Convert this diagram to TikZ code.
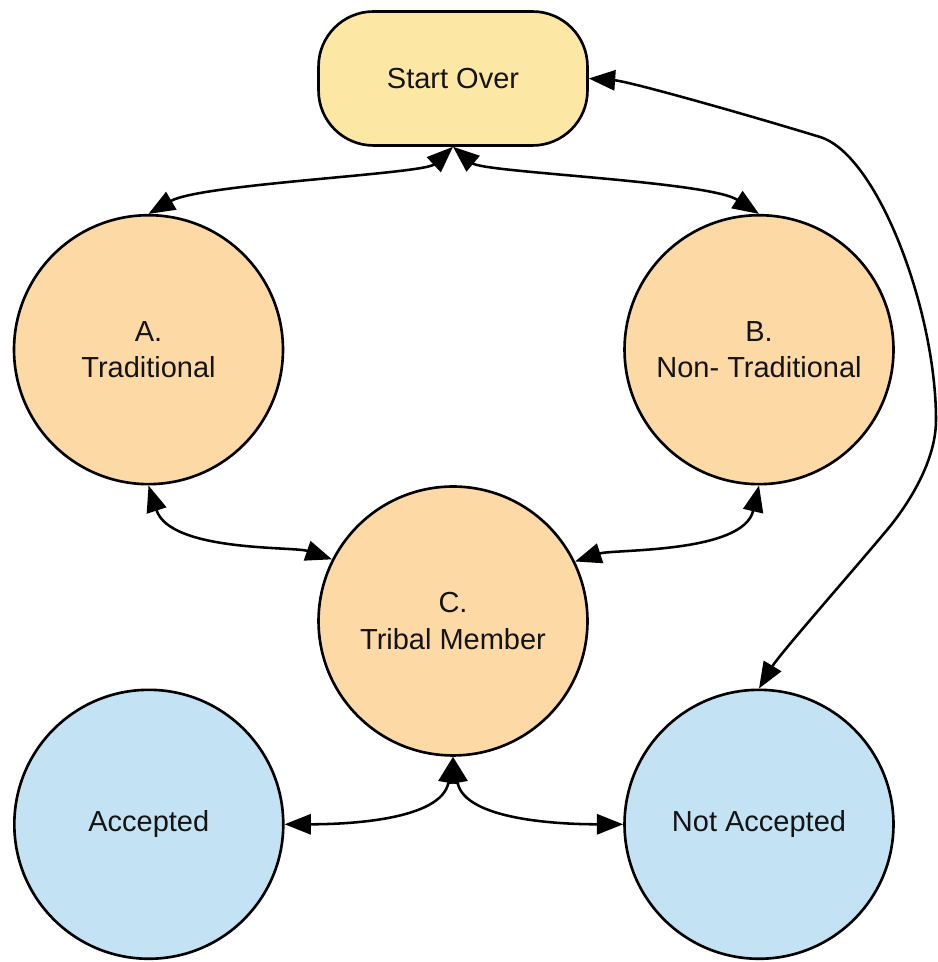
\documentclass[tikz,border=0pt]{standalone}
\usepackage{fontspec}
\setmainfont{Liberation Sans}
\usetikzlibrary{arrows.meta}
\definecolor{startfill}{HTML}{FCE8A4}
\definecolor{pathfill}{HTML}{FDD9A6}
\definecolor{resultfill}{HTML}{C3E3F5}
\definecolor{inkgray}{HTML}{141414}
\begin{document}
\begin{tikzpicture}[x=0.02cm, y=0.02cm,
  label text/.style={font=\fontsize{16.5}{21}\selectfont, text=inkgray, align=center, inner sep=0pt},
  terminal/.style={label text, rectangle, draw=black, line width=1.5pt, rounded corners=1.1cm,
    minimum width=5.38cm, minimum height=2.68cm, fill=startfill},
  option/.style={label text, circle, draw=black, line width=1.5pt, minimum size=5.38cm, fill=pathfill},
  outcome/.style={label text, circle, draw=black, line width=1.5pt, minimum size=5.38cm, fill=resultfill},
  conn/.style={line width=1.45pt, black,
    {Triangle[length=15pt,width=11.5pt]}-{Triangle[length=15pt,width=11.5pt]}}
]
\useasboundingbox (0,0) rectangle (937,962);

% states
\node[terminal] (S)   at (453,883.5) {Start Over};
\node[option]   (A)   at (148.5,612.3) {A.\\Traditional};
\node[option]   (B)   at (759,612.3) {B.\\Non- Traditional};
\node[option]   (C)   at (453,341) {C.\\Tribal Member};
\node[outcome]  (Acc) at (148.8,137.7) {Accepted};
\node[outcome]  (NA)  at (759,137.7) {Not Accepted};

% waypoints of the long return path on the right
\coordinate (k1) at (820,825);
\coordinate (k2) at (936,542);
\coordinate (k3) at (887,432);

% transitions
\draw[conn] (S.south) to[out=223, in=30, out distance=0.8cm, in distance=1.2cm] (A.north);
\draw[conn] (S.south) to[out=-40, in=147, out distance=0.8cm, in distance=1.2cm] (B.north);
\draw[conn] (A.south) to[out=-72, in=161, out distance=1.4cm, in distance=0.8cm] (C.153);
\draw[conn] (B.south) to[out=-103, in=18, out distance=1.4cm, in distance=0.8cm] (C.26);
\draw[conn] (C.south) to[out=-100, in=0, out distance=1.3cm, in distance=1.2cm] (Acc.east);
\draw[conn] (C.south) to[out=-80, in=180, out distance=1.3cm, in distance=1.2cm] (NA.west);
\draw[conn] (S.east)
  to[out=-4, in=163, out distance=0.8cm, in distance=1.6cm] (k1)
  to[out=-17, in=90, out distance=1.2cm, in distance=2.2cm] (k2)
  to[out=-90, in=50, out distance=0.9cm, in distance=0.5cm] (k3)
  to[out=-130, in=59, out distance=1.2cm, in distance=0.8cm] (NA.north);
\end{tikzpicture}
\end{document}
